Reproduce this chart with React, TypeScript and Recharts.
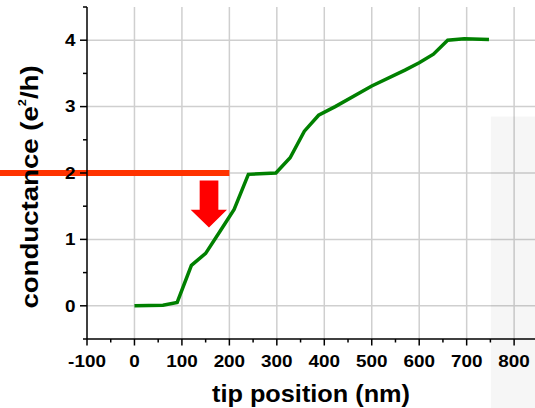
import React from 'react';
import {
  LineChart,
  Line,
  XAxis,
  YAxis,
  CartesianGrid,
  ReferenceLine,
  ReferenceDot,
  ReferenceArea,
} from 'recharts';

// ---- data ----
const tipPosition = [0, 60, 90, 120, 150, 180, 210, 240, 298, 328, 358, 388, 423, 500, 570, 600, 630, 660, 695, 747];
const conductance = [0, 0.01, 0.05, 0.61, 0.79, 1.12, 1.45, 1.98, 2.0, 2.23, 2.63, 2.87, 3.0, 3.31, 3.55, 3.66, 3.79, 4.0, 4.02, 4.01];

const xTicks = [-100, -50, 0, 50, 100, 150, 200, 250, 300, 350, 400, 450, 500, 550, 600, 650, 700, 750, 800];
const xGrid = [0, 100, 200, 300, 400, 500, 600, 700, 800];
const yTicks = [-0.5, 0, 0.5, 1, 1.5, 2, 2.5, 3, 3.5, 4, 4.5];
const yGrid = [0, 1, 2, 3, 4];

const xDomain = [-100, 844];
const yDomain = [-0.5, 4.5];

// annotation values
const plateauLevel = [2];
const plateauSegmentX = [-290, 200];
const arrowPoint = { x: 157, y: 1.18 };
const shadeX = [751, 850];
const shadeY = [-1.7, 2.85];

const data = tipPosition.map((x, i) => ({ x, g: conductance[i] }));

const FONT = '"Liberation Sans", Arial, Helvetica, sans-serif';

function applyScale(axis: any, v: number, fallback: () => number): number {
  const s = axis && axis.scale;
  if (typeof s === 'function') return s(v);
  if (s && typeof s.map === 'function') return s.map(v);
  if (s && typeof s.scale === 'function') return s.scale(v);
  return fallback();
}

const XTick = (props: any) => {
  const { x, y, payload } = props;
  const v = payload.value;
  const major = v % 100 === 0;
  return (
    <g>
      <line x1={x} x2={x} y1={y} y2={y + (major ? 6.5 : 3.5)} stroke="#000" strokeWidth={1.5} />
      {major && (
        <text
          transform={`translate(${x},${y + 27.5}) scale(1.18,1)`}
          textAnchor="middle"
          fontFamily={FONT}
          fontWeight="bold"
          fontSize={16}
          fill="#000"
        >
          {v}
        </text>
      )}
    </g>
  );
};

const YTick = (props: any) => {
  const { x, y, payload } = props;
  const v = payload.value;
  const major = Number.isInteger(v);
  return (
    <g>
      <line x1={x} x2={x - (major ? 7 : 4)} y1={y} y2={y} stroke="#000" strokeWidth={1.5} />
      {major && (
        <text
          transform={`translate(${x - 11.5},${y + 5.8}) scale(1.18,1)`}
          textAnchor="end"
          fontFamily={FONT}
          fontWeight="bold"
          fontSize={16}
          fill="#000"
        >
          {v}
        </text>
      )}
    </g>
  );
};

const XTitle = (props: any) => {
  const vb = props.viewBox || { x: 87, y: 339, width: 448, height: 69 };
  const cx = vb.x + vb.width / 2;
  const by = vb.y + 63;
  return (
    <text
      transform={`translate(${cx},${by}) scale(1.1,1)`}
      textAnchor="middle"
      fontFamily={FONT}
      fontWeight="bold"
      fontSize={23}
      fill="#000"
    >
      tip position (nm)
    </text>
  );
};

const YTitle = (props: any) => {
  const vb = props.viewBox || { x: 0, y: 7, width: 87, height: 332 };
  const cy = vb.y + vb.height / 2 + 14;
  const bx = 38;
  return (
    <text
      transform={`translate(${bx},${cy}) rotate(-90) scale(1.15,1)`}
      textAnchor="middle"
      fontFamily={FONT}
      fontWeight="bold"
      fontSize={24}
      fill="#000"
    >
      conductance (e
      <tspan fontSize={11} dy={-12.5}>2</tspan>
      <tspan dy={12.5}>/h)</tspan>
    </text>
  );
};

const Arrow = (props: any) => {
  const { cx, cy } = props;
  if (cx == null || cy == null) return null;
  const pts = [
    [cx - 9.3, cy - 47],
    [cx + 9.4, cy - 47],
    [cx + 9.4, cy - 17.7],
    [cx + 18, cy - 17.7],
    [cx, cy],
    [cx - 18.3, cy - 17.7],
    [cx - 9.3, cy - 17.7],
  ]
    .map((p) => p.join(','))
    .join(' ');
  return <polygon points={pts} fill="#ff0000" />;
};

export default function App() {
  return (
    <div style={{ position: 'absolute', left: 0, top: 0, width: 535, height: 408, background: '#fff' }}>
      <LineChart width={535} height={408} data={data} margin={{ top: 7, right: 0, bottom: 0, left: 0 }}>
        <ReferenceArea
          x1={shadeX[0]}
          x2={shadeX[1]}
          y1={shadeY[0]}
          y2={shadeY[1]}
          ifOverflow="visible"
          fill="#000"
          fillOpacity={0.035}
          stroke="none"
        />
        <CartesianGrid
          stroke="#cfcfcf"
          strokeWidth={1.5}
          verticalCoordinatesGenerator={({ xAxis, offset }: any) =>
            xGrid.map((v) =>
              applyScale(xAxis, v, () => offset.left + ((v - xDomain[0]) / (xDomain[1] - xDomain[0])) * offset.width)
            )
          }
          horizontalCoordinatesGenerator={({ yAxis, offset }: any) =>
            yGrid.map((v) =>
              applyScale(
                yAxis,
                v,
                () => offset.top + ((yDomain[1] - v) / (yDomain[1] - yDomain[0])) * offset.height
              )
            )
          }
        />
        <XAxis
          type="number"
          dataKey="x"
          domain={xDomain}
          ticks={xTicks}
          interval={0}
          allowDataOverflow
          tickSize={0}
          tickMargin={0}
          tickLine={false}
          tick={<XTick />}
          axisLine={{ stroke: '#000', strokeWidth: 1.5 }}
          height={69}
          label={<XTitle />}
        />
        <YAxis
          type="number"
          domain={yDomain}
          ticks={yTicks}
          interval={0}
          allowDataOverflow
          tickSize={0}
          tickMargin={0}
          tickLine={false}
          tick={<YTick />}
          axisLine={{ stroke: '#000', strokeWidth: 1.5 }}
          width={87}
          label={<YTitle />}
        />
        <ReferenceLine
          segment={[
            { x: plateauSegmentX[0], y: plateauLevel[0] },
            { x: plateauSegmentX[1], y: plateauLevel[0] },
          ]}
          ifOverflow="visible"
          stroke="#ff3300"
          strokeWidth={6}
        />
        <ReferenceDot x={arrowPoint.x} y={arrowPoint.y} ifOverflow="visible" shape={<Arrow />} />
        <Line
          type="linear"
          dataKey="g"
          stroke="#008000"
          strokeWidth={3.5}
          dot={false}
          isAnimationActive={false}
        />
      </LineChart>
    </div>
  );
}
